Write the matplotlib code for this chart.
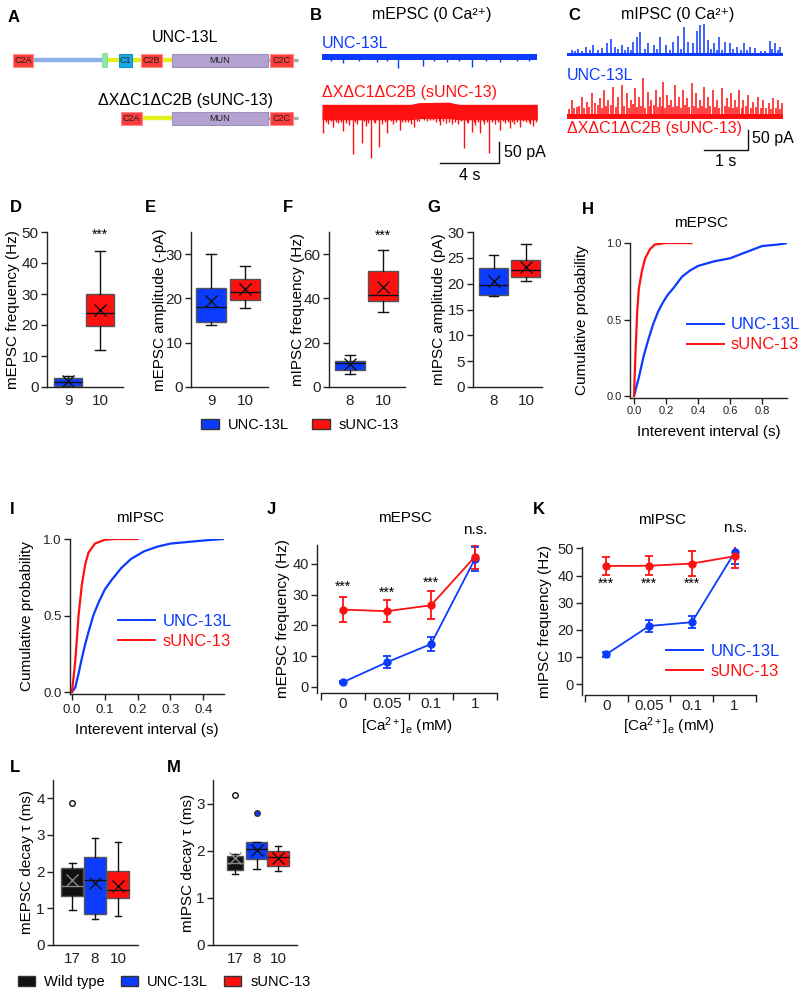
import matplotlib
matplotlib.use("Agg")
import matplotlib.pyplot as plt
from matplotlib.patches import Rectangle, Patch
from matplotlib.lines import Line2D

plt.rcParams["font.family"] = ["Liberation Sans", "DejaVu Sans"]
plt.rcParams["mathtext.fontset"] = "custom"
plt.rcParams["mathtext.rm"] = "Liberation Sans"
plt.rcParams["mathtext.it"] = "Liberation Sans:italic"
plt.rcParams["axes.facecolor"] = "none"
plt.rcParams["axes.linewidth"] = 1.0
plt.rcParams["axes.edgecolor"] = "#222222"
plt.rcParams["xtick.color"] = "#222222"
plt.rcParams["ytick.color"] = "#222222"

BLUE = "#0b3bff"
RED = "#ff1010"
BLACK = "#111111"

# ---------------- data ----------------
# A: domain schematic (schematic units)
long_names = ["C2A", "C1", "C2B", "MUN", "C2C"]
long_starts = [13, 119, 141, 172, 270]
long_ends = [33, 132, 162, 268, 293]
short_names = ["C2A", "MUN", "C2C"]
short_starts = [121, 172, 270]
short_ends = [142, 268, 293]

# B: mEPSC traces (s, pA relative to baseline)
b_blue_t = [1.44, 3.7, 5.18, 6.83, 8.45, 10.2, 12.07, 13.2, 0.6, 2.5, 4.4, 7.6, 9.3, 11.1, 14.0]
b_blue_amp = [-14, -12, -26, -21, -12, -24, -12, -10, -9, -10, -9, -10, -9, -10, -9]
b_red_t = [0.09, 0.77, 1.44, 2.08, 2.69, 3.32, 3.86, 4.43, 5.29, 6.26, 8.0, 9.63,
           10.15, 10.71, 11.34, 12.07, 12.75, 13.42, 14.33,
           0.4, 1.1, 1.8, 2.4, 3.0, 3.6, 4.1, 4.8, 5.6, 6.0, 6.6, 7.3, 7.7, 8.4,
           8.8, 9.2, 9.9, 10.4, 11.0, 11.7, 12.4, 13.0, 13.8, 14.1,
           0.25, 0.6, 0.95, 1.3, 1.65, 2.25, 2.85, 3.15, 3.5, 4.25, 4.65, 5.05, 5.45,
           5.85, 6.45, 6.9, 7.1, 7.5, 7.9, 8.2, 8.6, 9.0, 9.45, 9.8, 10.3, 10.55,
           10.9, 11.2, 11.5, 11.9, 12.25, 12.6, 12.9, 13.25, 13.6, 14.0, 14.5]
b_red_amp = [-52, -38, -48, -102, -76, -112, -86, -52, -45, -38, -33, -88,
             -50, -52, -100, -45, -40, -38, -36,
             -30, -28, -34, -30, -36, -28, -32, -30, -26, -30, -24, -22, -26, -28,
             -30, -32, -28, -34, -30, -32, -28, -30, -26, -30,
             -26, -24, -27, -25, -28, -26, -24, -28, -25, -27, -24, -26, -25,
             -27, -24, -22, -23, -22, -24, -23, -25, -26, -24, -27, -25, -26,
             -24, -27, -25, -26, -24, -27, -25, -26, -24, -25, -26]
b_red_env_t = [0, 6.0, 6.6, 8.6, 9.3, 14.6]
b_red_env_hi = [16, 16, 20, 21, 16, 16]
b_red_env_lo = [-21, -21, -18, -18, -21, -21]

# C: mIPSC traces (s, pA relative to baseline)
c_blue_t = [0.11, 0.26, 0.43, 0.60, 0.79, 0.90, 0.99, 1.09, 1.24, 1.39, 1.51, 1.60,
            1.67, 1.85, 1.98, 2.11, 2.25, 2.42, 2.52, 2.66, 2.76, 2.86, 2.96, 3.02,
            3.12, 3.21, 3.33, 3.46, 3.59, 3.70, 3.86, 4.03, 4.16, 4.27, 4.61, 4.73, 4.84,
            0.18, 0.35, 0.52, 0.70, 1.16, 1.31, 1.45, 1.77, 2.04, 2.33, 2.60, 3.27,
            3.40, 3.53, 3.78, 3.95, 4.10, 4.40, 4.50, 4.67, 4.79]
c_blue_amp = [12, 14, 21, 25, 18, 31, 39, 21, 25, 21, 33, 46,
              57, 29, 25, 46, 25, 33, 48, 71, 33, 29, 60, 75,
              78, 38, 29, 46, 33, 29, 21, 31, 21, 17, 36, 29, 21,
              10, 11, 12, 13, 14, 12, 13, 15, 14, 12, 16, 14,
              13, 12, 14, 13, 12, 10, 11, 14, 13]
c_red_t = [0.11, 0.22, 0.33, 0.45, 0.56, 0.64, 0.75, 0.84, 0.94, 1.05, 1.17, 1.24,
           1.36, 1.45, 1.55, 1.64, 1.73, 1.83, 1.92, 2.02, 2.11, 2.19, 2.27, 2.36,
           2.45, 2.55, 2.64, 2.73, 2.83, 2.93, 3.02, 3.11, 3.21, 3.31, 3.40, 3.52,
           3.63, 3.72, 3.82, 3.92, 4.01, 4.12, 4.23, 4.35, 4.46, 4.58, 4.69, 4.80, 4.88,
           0.05, 0.16, 0.27, 0.39, 0.50, 0.70, 0.80, 0.89, 1.00, 1.11, 1.30, 1.40,
           1.50, 1.60, 1.69, 1.78, 1.88, 1.97, 2.07, 2.15, 2.23, 2.31, 2.41, 2.50,
           2.60, 2.69, 2.78, 2.88, 2.98, 3.07, 3.16, 3.26, 3.36, 3.46, 3.58, 3.68,
           3.77, 3.87, 3.97, 4.07, 4.18, 4.29, 4.40, 4.52, 4.64, 4.75, 4.84]
c_red_amp = [45, 28, 53, 41, 62, 37, 49, 70, 45, 78, 53, 83,
             62, 45, 74, 53, 99, 66, 45, 70, 53, 91, 58, 45,
             83, 53, 70, 49, 87, 62, 45, 78, 53, 70, 45, 74,
             49, 62, 45, 70, 45, 58, 41, 53, 45, 37, 49, 45, 37,
             22, 26, 30, 24, 28, 32, 25, 29, 33, 27, 30, 26,
             34, 28, 31, 25, 29, 33, 27, 30, 26, 32, 28, 31,
             25, 33, 27, 30, 24, 29, 26, 31, 28, 25, 30, 27,
             24, 28, 26, 30, 25, 27, 24, 26, 23, 25, 22]

# D-G box plots: [UNC-13L, sUNC-13]
d_n = ["9", "10"]
d_q1, d_med, d_q3 = [0.2, 19.7], [1.6, 23.9], [3.0, 29.9]
d_lo, d_hi, d_mean = [0.0, 11.9], [3.5, 44.0], [1.8, 24.7]
e_n = ["9", "10"]
e_q1, e_med, e_q3 = [14.6, 19.6], [18.1, 21.5], [22.4, 24.4]
e_lo, e_hi, e_mean = [14.0, 17.9], [30.1, 27.4], [19.5, 22.1]
f_n = ["8", "10"]
f_q1, f_med, f_q3 = [7.5, 38.7], [10.9, 41.7], [11.7, 52.5]
f_lo, f_hi, f_mean = [6.0, 33.9], [14.5, 61.9], [10.2, 45.3]
g_n = ["8", "10"]
g_q1, g_med, g_q3 = [17.9, 21.2], [19.8, 22.7], [23.0, 24.6]
g_lo, g_hi, g_mean = [17.6, 20.6], [25.6, 27.7], [20.5, 23.2]

# H, I: cumulative distributions (s, probability)
h_blue_x = [0, 0.03, 0.06, 0.09, 0.12, 0.15, 0.18, 0.21, 0.25, 0.3, 0.35, 0.4, 0.5, 0.6, 0.7, 0.8, 0.9, 0.96]
h_blue_p = [0, 0.12, 0.26, 0.37, 0.47, 0.55, 0.61, 0.66, 0.71, 0.78, 0.82, 0.85, 0.88, 0.90, 0.94, 0.98, 0.99, 1.0]
h_red_x = [0, 0.01, 0.02, 0.03, 0.05, 0.07, 0.1, 0.13, 0.2, 0.36]
h_red_p = [0, 0.3, 0.55, 0.7, 0.82, 0.9, 0.96, 0.99, 1.0, 1.0]
i_blue_x = [0, 0.01, 0.02, 0.03, 0.04, 0.05, 0.065, 0.08, 0.1, 0.12, 0.15, 0.18, 0.22, 0.26, 0.3, 0.35, 0.4, 0.46]
i_blue_p = [0, 0.03, 0.12, 0.22, 0.31, 0.39, 0.5, 0.58, 0.67, 0.73, 0.81, 0.87, 0.92, 0.95, 0.97, 0.98, 0.99, 1.0]
i_red_x = [0, 0.01, 0.02, 0.03, 0.04, 0.05, 0.07, 0.1, 0.13, 0.2]
i_red_p = [0, 0.2, 0.5, 0.7, 0.83, 0.91, 0.97, 0.995, 1.0, 1.0]

# J, K: frequency vs [Ca2+]e
ca_labels = ["0", "0.05", "0.1", "1"]
j_red, j_red_err = [25.1, 24.6, 26.5, 42.3], [4.1, 3.6, 4.5, 3.9]
j_blue, j_blue_err = [1.5, 8.0, 13.9, 41.6], [0.4, 2.0, 2.2, 4.0]
k_red, k_red_err = [43.5, 43.6, 44.4, 47.1], [3.4, 3.5, 4.5, 4.5]
k_blue, k_blue_err = [11.0, 21.4, 22.8, 48.5], [1.0, 2.1, 2.3, 4.3]

# L, M: decay tau box plots [Wild type, UNC-13L, sUNC-13]
l_n = ["17", "8", "10"]
l_q1, l_med, l_q3 = [1.35, 0.84, 1.28], [1.62, 1.76, 1.51], [2.09, 2.40, 2.01]
l_lo, l_hi, l_mean = [0.96, 0.71, 0.78], [2.24, 2.92, 2.81], [1.78, 1.69, 1.62]
l_fliers = [[3.88], [], []]
m_n = ["17", "8", "10"]
m_q1, m_med, m_q3 = [1.59, 1.82, 1.68], [1.75, 2.04, 1.87], [1.89, 2.19, 2.00]
m_lo, m_hi, m_mean = [1.51, 1.62, 1.57], [1.93, 2.19, 2.09], [1.84, 2.02, 1.84]
m_fliers = [[3.18], [2.80], []]

# ---------------- layout ----------------
W, H = 800, 992
fig = plt.figure(figsize=(W / 100, H / 100), dpi=100)

ov = fig.add_axes([0, 0, 1, 1])
ov.set_xlim(0, W)
ov.set_ylim(H, 0)
ov.axis("off")


def px_axes(l, t, r, b):
    return fig.add_axes([l / W, 1 - b / H, (r - l) / W, (b - t) / H])


def style(ax, ysize=10):
    ax.spines["top"].set_visible(False)
    ax.spines["right"].set_visible(False)
    ax.tick_params(axis="y", direction="out", length=4, width=1, labelsize=ysize, pad=2)


def ylabel_at(ax, text, x_px, l, r, size=11):
    ax.set_ylabel(text, fontsize=size, va="center")
    ax.yaxis.set_label_coords((x_px - l) / (r - l), 0.5)


def xlabel_at(ax, text, y_px, t, b, size=11):
    ax.set_xlabel(text, fontsize=size, va="center")
    ax.xaxis.set_label_coords(0.5, (b - y_px) / (b - t))


def panel_label(x, y, s):
    ov.text(x, y, s, fontsize=12, fontweight="bold", ha="left", va="center")


def box_panel(ax, q1, med, q3, lo, hi, mean, labels, colors, mark_colors, fliers=None, width=0.9):
    n = len(q1)
    if fliers is None:
        fliers = [[] for _ in range(n)]
    stats = [dict(q1=q1[i], med=med[i], q3=q3[i], whislo=lo[i], whishi=hi[i],
                  mean=mean[i], fliers=fliers[i]) for i in range(n)]
    pos = list(range(1, n + 1))
    bp = ax.bxp(stats, positions=pos, widths=width, patch_artist=True, showmeans=True,
                capwidths=0.3,
                boxprops=dict(edgecolor="#555555", linewidth=1),
                whiskerprops=dict(color=BLACK, linewidth=1),
                capprops=dict(color=BLACK, linewidth=1),
                medianprops=dict(color=BLACK, linewidth=1),
                meanprops=dict(marker="x", markeredgecolor=BLACK, markersize=8, markeredgewidth=1),
                flierprops=dict(marker="o", markersize=4))
    for i in range(n):
        bp["boxes"][i].set_facecolor(colors[i])
        bp["medians"][i].set_color(mark_colors[i])
        bp["means"][i].set_markeredgecolor(mark_colors[i])
    ax.set_xticks(pos, labels)
    ax.tick_params(axis="x", length=0, labelsize=11, pad=5)
    return bp


# ---------------- A ----------------
panel_label(8, 17, "A")
ov.text(185, 38, "UNC-13L", fontsize=11.5, ha="center", va="center")
ov.text(185, 100, "ΔXΔC1ΔC2B (sUNC-13)", fontsize=11.5, ha="center", va="center")
y1, y2, hh = 60, 118, 13
ov.plot([33, 102], [y1, y1], color="#8fb3e6", lw=3.2, solid_capstyle="butt", zorder=1)
ov.plot([107, 172], [y1, y1], color="#e3ef1f", lw=3.2, solid_capstyle="butt", zorder=1)
ov.plot([268, 298], [y1, y1], color="#a8a8a8", lw=2.4, solid_capstyle="butt", zorder=1)
ov.add_patch(Rectangle((102, y1 - 7), 5, 14, fc="#8fe8a8", ec="#7fd898", lw=0.6, zorder=2))
ov.plot([142, 172], [y2, y2], color="#e3ef1f", lw=3.2, solid_capstyle="butt", zorder=1)
ov.plot([268, 298], [y2, y2], color="#a8a8a8", lw=2.4, solid_capstyle="butt", zorder=1)


def domain_color(name):
    if name == "MUN":
        return "#b4a3d0", "#a090c0"
    if name == "C1":
        return "#1ca8e2", "#1490c8"
    return "#fb3c3c", "#ff8a8a"


for names, starts, ends, yc in [(long_names, long_starts, long_ends, y1),
                                (short_names, short_starts, short_ends, y2)]:
    for nm, s, e in zip(names, starts, ends):
        fc, ec = domain_color(nm)
        ov.add_patch(Rectangle((s, yc - hh / 2), e - s, hh, fc=fc, ec=ec, lw=0.8, zorder=3))
        ov.text((s + e) / 2, yc + 0.5, nm, fontsize=6.5, color="#222222",
                ha="center", va="center", zorder=4)

# ---------------- B ----------------
panel_label(310, 15, "B")
ov.text(432, 15, "mEPSC (0 Ca²⁺)", fontsize=11.5, ha="center", va="center")
ov.text(322, 43, "UNC-13L", fontsize=11.5, color=BLUE, ha="left", va="center")
ov.text(322, 93, "ΔXΔC1ΔC2B (sUNC-13)", fontsize=11.5, color=RED, ha="left", va="center")
bl, bt, br, bb = 322, 40, 540, 175
b_pxs, b_pxa = 14.75, 0.42
axb = px_axes(bl, bt, br, bb)
axb.axis("off")
b_ymax = (57 - bt) / b_pxa
axb.set_xlim(0, (br - bl) / b_pxs)
axb.set_ylim(b_ymax - (bb - bt) / b_pxa, b_ymax)
b_red_off = -(111 - 57) / b_pxa
axb.fill_between([0, 14.6], [-6, -6], [6, 6], color=BLUE, lw=0)
axb.vlines(b_blue_t, 0, b_blue_amp, color=BLUE, lw=1)
axb.fill_between(b_red_env_t, [v + b_red_off for v in b_red_env_lo],
                 [v + b_red_off for v in b_red_env_hi], color=RED, lw=0)
axb.vlines(b_red_t, b_red_off, [a + b_red_off for a in b_red_amp], color=RED, lw=1)
sb_low = -(163 - 57) / b_pxa
axb.plot([8, 12, 12], [sb_low, sb_low, sb_low + 50], color=BLACK, lw=1, clip_on=False)
ov.text(504, 152, "50 pA", fontsize=11.5, ha="left", va="center")
ov.text(470, 176, "4 s", fontsize=11.5, ha="center", va="center")

# ---------------- C ----------------
panel_label(568, 15, "C")
ov.text(678, 15, "mIPSC (0 Ca²⁺)", fontsize=11.5, ha="center", va="center")
ov.text(567, 76, "UNC-13L", fontsize=11.5, color=BLUE, ha="left", va="center")
ov.text(567, 129, "ΔXΔC1ΔC2B (sUNC-13)", fontsize=11.5, color=RED, ha="left", va="center")
cl, ct, cr, cb = 567, 20, 785, 160
c_pxs, c_pxa = 44.0, 0.4
axc = px_axes(cl, ct, cr, cb)
axc.axis("off")
c_ymax = (55 - ct) / c_pxa
axc.set_xlim(0, (cr - cl) / c_pxs)
axc.set_ylim(c_ymax - (cb - ct) / c_pxa, c_ymax)
c_red_off = -(118 - 55) / c_pxa
axc.fill_between([0, 4.9], [-3, -3], [4, 4], color=BLUE, lw=0)
axc.vlines(c_blue_t, 0, c_blue_amp, color=BLUE, lw=1.1)
axc.fill_between([0, 4.9], [c_red_off - 3] * 2, [c_red_off + 10] * 2, color=RED, lw=0)
axc.vlines(c_red_t, c_red_off, [a + c_red_off for a in c_red_amp], color=RED, lw=1.1)
sc_low = -(150 - 55) / c_pxa
axc.plot([3.11, 4.11, 4.11], [sc_low, sc_low, sc_low + 50], color=BLACK, lw=1, clip_on=False)
ov.text(752, 138, "50 pA", fontsize=11.5, ha="left", va="center")
ov.text(726, 161, "1 s", fontsize=11.5, ha="center", va="center")

# ---------------- D-G ----------------
two_cols = [BLUE, RED]
two_marks = [BLACK, BLACK]
panels = [
    ("D", 10, 47, 123, 50, [0, 10, 20, 30, 40, 50], "mEPSC frequency (Hz)", 13,
     (d_q1, d_med, d_q3, d_lo, d_hi, d_mean, d_n), 0.34, 2.72, 49),
    ("E", 145, 191, 268, 35, [0, 10, 20, 30], "mEPSC amplitude (-pA)", 160,
     (e_q1, e_med, e_q3, e_lo, e_hi, e_mean, e_n), 0.41, 2.68, None),
    ("F", 283, 329, 405, 70, [0, 20, 40, 60], "mIPSC frequency (Hz)", 298,
     (f_q1, f_med, f_q3, f_lo, f_hi, f_mean, f_n), 0.36, 2.67, 68.5),
    ("G", 427, 473, 542, 30, [0, 5, 10, 15, 20, 25, 30], "mIPSC amplitude (pA)", 439,
     (g_q1, g_med, g_q3, g_lo, g_hi, g_mean, g_n), 0.36, 2.5, None),
]
for lab, lx, l, r, ytop, yt, ylab, ylx, st, x0, x1, star in panels:
    panel_label(lx, 208, lab)
    ax = px_axes(l, 232, r, 387)
    style(ax, 11)
    q1, med, q3, lo, hi, mean, n = st
    box_panel(ax, q1, med, q3, lo, hi, mean, n, two_cols, two_marks)
    ax.set_xlim(x0, x1)
    ax.set_ylim(0, ytop)
    ax.set_yticks(yt)
    ylabel_at(ax, ylab, ylx, l, r, 11)
    if star is not None:
        ax.text(2, star, "***", fontsize=10, ha="center", va="center")

fig.legend(handles=[Patch(fc=BLUE, ec="#333333", label="UNC-13L"),
                    Patch(fc=RED, ec="#333333", label="sUNC-13")],
           ncol=2, loc="center", bbox_to_anchor=(300 / W, 1 - 425 / H), frameon=False,
           fontsize=10.5, handlelength=1.2, handleheight=0.7, handletextpad=0.6,
           columnspacing=1.6, borderpad=0)

line_handles = [Line2D([], [], color=BLUE, lw=1.4, label="UNC-13L"),
                Line2D([], [], color=RED, lw=1.4, label="sUNC-13")]

# ---------------- H ----------------
panel_label(582, 209, "H")
ov.text(701, 223, "mEPSC", fontsize=11, ha="center", va="center")
hl, ht, hr, hb = 630, 243, 787, 398
axh = px_axes(hl, ht, hr, hb)
style(axh, 8)
axh.plot(h_blue_x, h_blue_p, color=BLUE, lw=1.6)
axh.plot(h_red_x, h_red_p, color=RED, lw=1.6)
axh.set_xlim(-0.025, 0.956)
axh.set_ylim(-0.013, 1.0)
axh.set_yticks([0, 0.5, 1.0], ["0.0", "0.5", "1.0"])
axh.set_xticks([0, 0.2, 0.4, 0.6, 0.8], ["0.0", "0.2", "0.4", "0.6", "0.8"])
axh.tick_params(axis="x", direction="out", length=4, width=1, labelsize=8, pad=2)
ylabel_at(axh, "Cumulative probability", 582, hl, hr, 11)
xlabel_at(axh, "Interevent interval (s)", 432, ht, hb, 11)
axh.legend(handles=line_handles, frameon=False, labelcolor="linecolor", fontsize=12,
           handlelength=2.2, handletextpad=0.4, labelspacing=0.3, loc="center left",
           bbox_to_anchor=((687 - hl) / (hr - hl), (hb - 335) / (hb - ht)),
           borderaxespad=0, borderpad=0)

# ---------------- I ----------------
panel_label(10, 510, "I")
ov.text(140, 518, "mIPSC", fontsize=11, ha="center", va="center")
il, it, ir, ib = 70, 539, 224, 694
axi = px_axes(il, it, ir, ib)
style(axi, 9.5)
axi.plot(i_blue_x, i_blue_p, color=BLUE, lw=1.6)
axi.plot(i_red_x, i_red_p, color=RED, lw=1.6)
axi.set_xlim(-0.006, 0.463)
axi.set_ylim(-0.013, 1.0)
axi.set_yticks([0, 0.5, 1.0], ["0.0", "0.5", "1.0"])
axi.set_xticks([0, 0.1, 0.2, 0.3, 0.4], ["0.0", "0.1", "0.2", "0.3", "0.4"])
axi.tick_params(axis="x", direction="out", length=4, width=1, labelsize=9.5, pad=3)
ylabel_at(axi, "Cumulative probability", 27, il, ir, 11)
xlabel_at(axi, "Interevent interval (s)", 730, it, ib, 11)
axi.legend(handles=line_handles, frameon=False, labelcolor="linecolor", fontsize=12,
           handlelength=2.2, handletextpad=0.5, labelspacing=0.3, loc="center left",
           bbox_to_anchor=((118 - il) / (ir - il), (ib - 631) / (ib - it)),
           borderaxespad=0, borderpad=0)


# ---------------- J, K ----------------
def ca_panel(ax, red, red_err, blue, blue_err, x0, ylim, yt):
    pos = list(range(len(ca_labels)))
    ax.errorbar(pos, blue, yerr=blue_err, color=BLUE, marker="o", ms=5, lw=1.3,
                capsize=3, elinewidth=1.3, capthick=1.3)
    ax.errorbar(pos, red, yerr=red_err, color=RED, marker="o", ms=5, lw=1.3,
                capsize=3, elinewidth=1.3, capthick=1.3)
    ax.set_xlim(x0, 3.5)
    ax.set_ylim(*ylim)
    ax.set_yticks(yt)
    ax.set_xticks([-0.5, 0.5, 1.5, 2.5, 3.5], [""] * 5)
    ax.set_xticks(pos, ca_labels, minor=True)
    ax.tick_params(axis="x", which="major", direction="out", length=5, width=1)
    ax.tick_params(axis="x", which="minor", length=0, labelsize=11, pad=3)
    ax.spines["bottom"].set_bounds(-0.5, 3.5)
    return pos


panel_label(267, 510, "J")
ov.text(405, 518, "mEPSC", fontsize=11, ha="center", va="center")
ov.text(475, 530, "n.s.", fontsize=11, ha="center", va="center")
jl, jt, jr, jb = 317, 545, 497, 693
axj = px_axes(jl, jt, jr, jb)
style(axj, 10.5)
pos = ca_panel(axj, j_red, j_red_err, j_blue, j_blue_err, -0.59, (-2, 46.1), [0, 10, 20, 30, 40])
for p, yv in zip(pos[:3], [32.5, 30.5, 33.8]):
    axj.text(p, yv, "***", fontsize=10, ha="center", va="center")
ylabel_at(axj, "mEPSC frequency (Hz)", 283, jl, jr, 11)
xlabel_at(axj, r"[Ca$^{2+}$]$_\mathrm{e}$ (mM)", 726, jt, jb, 11)

panel_label(533, 509, "K")
ov.text(662, 520, "mIPSC", fontsize=11, ha="center", va="center")
ov.text(735, 528, "n.s.", fontsize=11, ha="center", va="center")
kl, kt, kr, kb = 582, 547, 756, 695
axk = px_axes(kl, kt, kr, kb)
style(axk, 10.5)
pos = ca_panel(axk, k_red, k_red_err, k_blue, k_blue_err, -0.57, (-4, 50.5), [0, 10, 20, 30, 40, 50])
for p in pos[:3]:
    axk.text(p, 36.8, "***", fontsize=10, ha="center", va="center")
ylabel_at(axk, "mIPSC frequency (Hz)", 545, kl, kr, 11)
xlabel_at(axk, r"[Ca$^{2+}$]$_\mathrm{e}$ (mM)", 726, kt, kb, 11)
axk.legend(handles=line_handles, frameon=False, labelcolor="linecolor", fontsize=12,
           handlelength=2.2, handletextpad=0.5, labelspacing=0.3, loc="center left",
           bbox_to_anchor=((666 - kl) / (kr - kl), (kb - 661) / (kb - kt)),
           borderaxespad=0, borderpad=0)

# ---------------- L, M ----------------
three_cols = [BLACK, BLUE, RED]
three_marks = ["#888888", BLACK, BLACK]

panel_label(10, 768, "L")
ll, lt, lr, lb = 53, 780, 138, 945
axl = px_axes(ll, lt, lr, lb)
style(axl, 11)
bp = box_panel(axl, l_q1, l_med, l_q3, l_lo, l_hi, l_mean, l_n, three_cols, three_marks,
               l_fliers, width=0.95)
bp["fliers"][0].set(markerfacecolor="white", markeredgecolor=BLACK)
axl.set_xlim(0.17, 3.87)
axl.set_ylim(0, 4.5)
axl.set_yticks([0, 1, 2, 3, 4])
ylabel_at(axl, "mEPSC decay τ (ms)", 27, ll, lr, 11)

panel_label(167, 768, "M")
ml, mt, mr, mb = 213, 780, 297, 945
axm = px_axes(ml, mt, mr, mb)
style(axm, 11)
bp = box_panel(axm, m_q1, m_med, m_q3, m_lo, m_hi, m_mean, m_n, three_cols, three_marks,
               m_fliers, width=[0.75, 0.98, 1.0])
bp["fliers"][0].set(markerfacecolor="white", markeredgecolor=BLACK)
bp["fliers"][1].set(markerfacecolor=BLUE, markeredgecolor="#333333")
axm.set_xlim(-0.02, 3.88)
axm.set_ylim(0, 3.5)
axm.set_yticks([0, 1, 2, 3])
ylabel_at(axm, "mIPSC decay τ (ms)", 188, ml, mr, 11)

fig.legend(handles=[Patch(fc=BLACK, ec="#333333", label="Wild type"),
                    Patch(fc=BLUE, ec="#333333", label="UNC-13L"),
                    Patch(fc=RED, ec="#333333", label="sUNC-13")],
           ncol=3, loc="center", bbox_to_anchor=(164 / W, 1 - 982 / H), frameon=False,
           fontsize=10.5, handlelength=1.2, handleheight=0.7, handletextpad=0.6,
           columnspacing=1.1, borderpad=0)

fig.savefig("out.png", dpi=100)
